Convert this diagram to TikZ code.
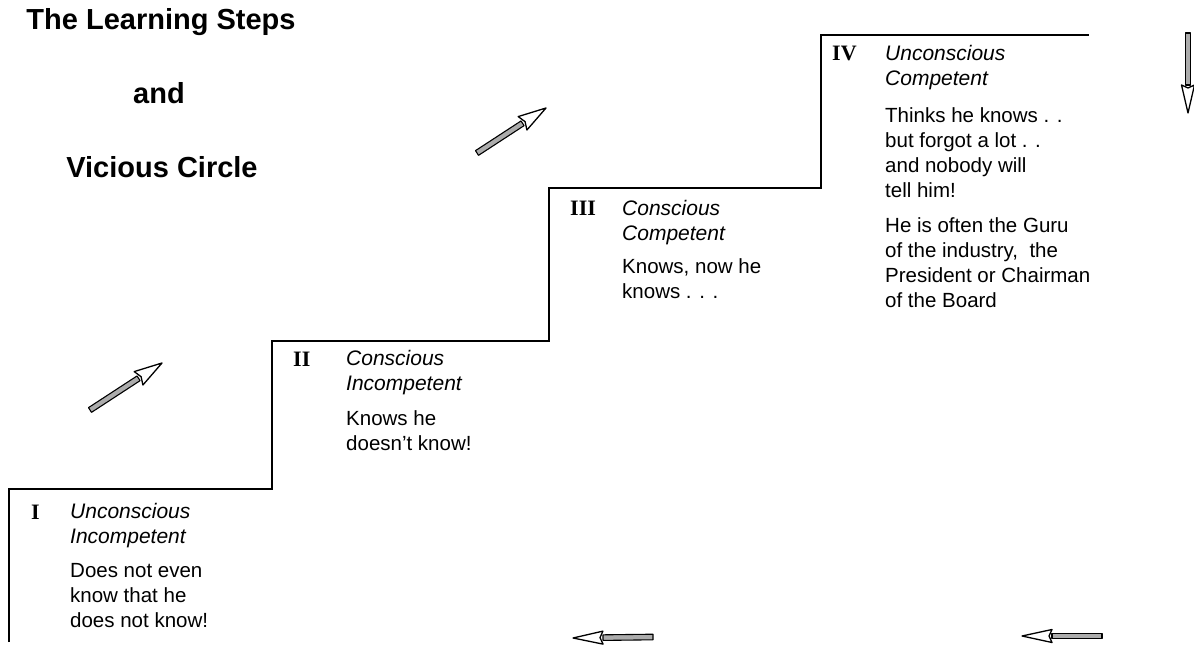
\documentclass[tikz,border=0pt]{standalone}
\usepackage{fontspec}
\setmainfont{Liberation Sans}
\newfontfamily\romfont{Liberation Serif}
\usetikzlibrary{calc}
\tikzset{
  stair/.style={line width=2.2pt, line join=miter},
  titletext/.style={font=\fontsize{29}{34}\selectfont\bfseries, anchor=base, inner sep=0pt},
  numeral/.style={font=\romfont\fontsize{22}{26}\selectfont\bfseries, anchor=base west, inner sep=0pt},
  stepname/.style={font=\fontsize{21}{25}\selectfont\itshape, align=left, anchor=north west, inner sep=0pt},
  steptext/.style={font=\fontsize{20.5}{25}\selectfont, align=left, anchor=north west, inner sep=0pt},
  arrshaft/.style={draw=black, line width=1.1pt, fill=gray!65, line join=round},
  arrhead/.style={draw=black, line width=1.3pt, fill=white, line join=round}
}
\newcommand{\blockarr}[4]{%
  \coordinate (ba-h) at ($(#2)!#3!(#1)$);
  \draw[arrshaft] ($(#1)!2.8pt!90:(#2)$) -- ($(#1)!2.8pt!-90:(#2)$)
     -- ($(ba-h)!2.8pt!90:(#1)$) -- ($(ba-h)!2.8pt!-90:(#1)$) -- cycle;
  \draw[arrhead] (#2) -- ($(ba-h)!#4!90:(#2)$) -- ($(ba-h)!3pt!(#2)$)
     -- ($(ba-h)!#4!-90:(#2)$) -- cycle;
}
\begin{document}
\begin{tikzpicture}[x=1pt, y=-1pt]
\useasboundingbox (0,0) rectangle (1194,652);
\fill[white] (0,0) rectangle (1194,652);

% title
\node[titletext] (title1) at (161,30) {The Learning Steps};
\node[titletext] (title2) at (159,104) {and};
\node[titletext] (title3) at (162,178) {Vicious Circle};

% staircase
\draw[stair] (9,642) -- (9,489) -- (272,489) -- (272,341) -- (549,341)
  -- (549,188) -- (821,188) -- (821,35) -- (1089,35);

% step I
\node[numeral] (n1) at (31,519) {I};
\node[stepname] (h1) at (70,503.5) {Unconscious\\Incompetent};
\node[steptext] (b1) at (70,563.5) {Does not even\\know that he\\does not know!};

% step II
\node[numeral] (n2) at (293,366) {II};
\node[stepname] (h2) at (346,350.5) {Conscious\\Incompetent};
\node[steptext] (b2) at (346,410.5) {Knows he\\doesn't know!};

% step III
\node[numeral] (n3) at (570,216) {III};
\node[stepname] (h3) at (622,200.5) {Conscious\\Competent};
\node[steptext] (b3) at (622,258.5) {Knows, now he\\knows . . .};

% step IV
\node[numeral] (n4) at (832,61) {IV};
\node[stepname] (h4) at (885,45.5) {Unconscious\\Competent};
\node[steptext] (b4) at (885,107.5) {Thinks he knows . .\\but forgot a lot . .\\and nobody will\\tell him!\\[10pt]He is often the Guru\\of the industry,\ \ the\\President or Chairman\\of the Board};

% arrows
\coordinate (a1t) at (90,410);  \coordinate (a1h) at (162,363);
\coordinate (a2t) at (477,153); \coordinate (a2h) at (546,108);
\coordinate (a3t) at (1188,33); \coordinate (a3h) at (1188,113);
\coordinate (a4t) at (653,637); \coordinate (a4h) at (573,638);
\coordinate (a5t) at (1102,636); \coordinate (a5h) at (1022,636);
\blockarr{a1t}{a1h}{28pt}{8pt}
\blockarr{a2t}{a2h}{28pt}{8pt}
\blockarr{a3t}{a3h}{28pt}{6.5pt}
\blockarr{a4t}{a4h}{30pt}{6.5pt}
\blockarr{a5t}{a5h}{30pt}{6.5pt}
\end{tikzpicture}
\end{document}
